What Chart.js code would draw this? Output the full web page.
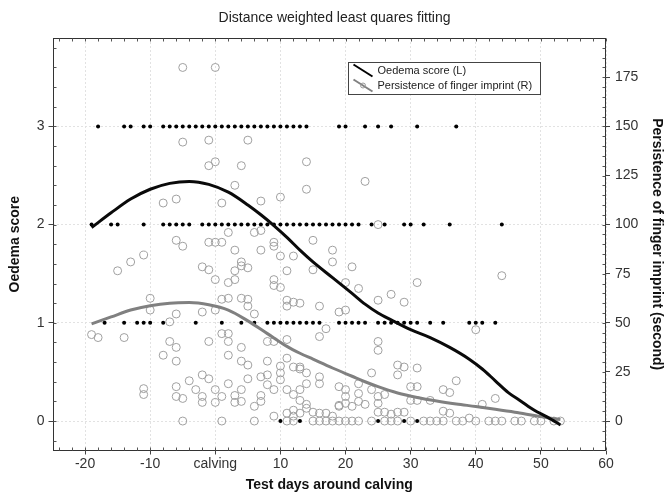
<!DOCTYPE html>
<html><head><meta charset="utf-8">
<script src="https://cdn.jsdelivr.net/npm/chart.js@4.4.0/dist/chart.umd.min.js"></script>
<style>html,body{margin:0;padding:0;background:#fff;}#wrap{width:669px;height:497px;}</style>
</head><body><div id="wrap"><canvas id="c" width="669" height="497"></canvas></div>
<script>
// ---------- texts ----------
const chartTitle = 'Distance weighted least quares fitting';
const xTitle = 'Test days around calving';
const yLeftTitle = 'Oedema score';
const yRightTitle = 'Persistence of finger imprint (second)';
const legendLabels = ['Oedema score (L)', 'Persistence of finger imprint (R)'];

// ---------- ticks ----------
const xTickValues = [-20, -10, 0, 10, 20, 30, 40, 50, 60];
const xTickLabels = ['-20', '-10', 'calving', '10', '20', '30', '40', '50', '60'];
const yLeftTicks = [0, 1, 2, 3];
const yRightTicks = [0, 25, 50, 75, 100, 125, 150, 175];

// ---------- oedema score observations (days per score level) ----------
const oedemaScore3Days = [-18,-14,-13,-11,-10,-8,-7,-6,-5,-4,-3,-2,-1,0,1,2,3,4,5,6,7,8,9,10,11,12,13,14,19,20,23,25,27,31,37];
const oedemaScore2Days = [-19,-16,-15,-11,-8,-7,-6,-5,-4,-2,-1,0,1,2,3,4,5,6,7,8,9,10,11,12,13,14,15,16,17,18,19,20,21,22,24,26,29,30,32,36,44];
const oedemaScore1Days = [-17,-14,-12,-11,-10,-8,-3,1,4,6,8,9,10,11,12,13,14,15,16,19,20,21,22,23,25,26,27,28,29,30,31,33,35,39,40,41,43];
const oedemaScore0Days = [10,13,25,29,31];

// ---------- persistence of finger imprint observations ----------
const persDays = [
  -5,0, -5,-1,5, -1,0,4,14, 3,14,23, -8,-6,1,7,10, 25, 2,6,7, -6,-1,0,1,9,15,
  -5,3,7,9,18,18, 10,12, -15,-13,-11, -2,-1, 0,3,4,4,5, 2,3, 9,9,10,11,
  21,15,20,22,31,44, 11,11,12,13,16,19,20, 25,27,29,
  -10,-10,-2,0,1,2,4,5,5,6, 8,9, -19,-18,-14, -7,-6,-7,-6,-8,-6,
  -1,1,2,2,2, 4,4,5, 8,10,10,10,11,12,13,11, 16,17,40, 25,25, 16,19,
  -11,-11, -6,-6,-5,-4,-2,-1, -3,-2,-2,0,0,1,2, 3,3,4,4,5,6,
  7,7,7,8,8,9, 11,12,13,13,14,14,14,
  9,11,12,12,13,14,15,16,17,18,19,
  24,28,29,28,31, 30,31,37,35,36,43,41, 20,20,19,20,21, 22,22,22,23,24,
  25,25,26, 25,26,27,28,29, 30,31,33, 35,36,39, 16,13,
  -5,1,6,11,12,15,16,17,18,19,20,21,22,24,26,27,28,30,32,33,34,35,37,38,40,42,43,44,46,47,49,50,52,53
];
const persValues = [
  180,180, 142,143,143, 130,132,130,132, 120,118,122, 111,113,111,112,114, 100, 96,96,97, 92,91,91,91,91,92,
  89,87,87,89,87,81, 84,84, 76.5,81,84.5, 78.5,77, 72,76.5,81,79,78, 70.5,72, 72,69,68,76.5,
  78.5,77,70.5,67.5,70.5,74, 61.5,58.5,60.5,60,58.5,55.5,56.5, 61.5,64.5,60.5,
  62.5,56.5,55.5,56.5,62,62.5,62.5,62,58.5,54.5, 40.5,40.5, 44,42.5,42.5, 50.5,54.5,40.5,37.5,33.5,30.5,
  40.5,44.5,44.5,40.5,33.5, 37.5,30.5,28.5, 30.5,28,24.5,21,32,27.5,26.5,41.5, 43,47,46.5, 40.5,36, 22.5,17.5,
  16.5,13.5, 17.5,12.5,11.5,20.5,23.5,21.5, 16,12.5,9.5,16,9.5,12.5,19, 13,9.5,16,10,21.5,7.5,
  22.5,13,10,23.5,18.5,16, 16,13.5,16,10.5,8.5,24.5,19,
  2.5,4,5.5,2.5,4,6.5,4.5,4,4,2.5,8,
  24.5,28.5,27.5,23.5,27, 17.5,17.5,20.5,16,14.5,11.5,8.5, 16,12.5,7.5,9,7.5, 19,14,10,8.5,16,
  12.5,9,13.5, 4.5,4.5,3.5,4.5,4.5, 10.5,10.5,10.5, 5,4,1.5, 19,27.5,
  0,0,0,0,0,0,0,0,0,0,0,0,0,0,0,0,0,0,0,0,0,0,0,0,0,0,0,0,0,0,0,0,0,0
];

// ---------- fitted curves ----------
const oedemaFitDays   = [-19,-16,-13,-10,-7,-4,-1,2,5,7,9,11,13,15,18,21,23,25,27,30,33,36,39,41,43,45,47,49,51,53];
const oedemaFitValues = [1.97,2.12,2.26,2.36,2.42,2.44,2.41,2.33,2.20,2.10,1.99,1.87,1.74,1.62,1.46,1.30,1.19,1.10,1.03,0.93,0.85,0.75,0.63,0.53,0.41,0.29,0.20,0.11,0.04,-0.04];
const persFitDays   = [-19,-16,-13,-10,-7,-4,-1,2,5,8,11,13,15,18,21,23,25,28,31,34,37,40,43,46,49,51,53];
const persFitValues = [49.5,53,56.5,58.7,60,60.3,59.2,56.5,51,44.5,38,34.5,31.5,27,22.8,20,17.5,14.3,12,10.2,8.7,7.4,6,4.5,2.8,1.7,0.8];

// ---------- build datasets ----------
const oedemaPoints = []
  .concat(oedemaScore3Days.map(d => ({x: d, y: 3})))
  .concat(oedemaScore2Days.map(d => ({x: d, y: 2})))
  .concat(oedemaScore1Days.map(d => ({x: d, y: 1})))
  .concat(oedemaScore0Days.map(d => ({x: d, y: 0})));
const persPoints = persDays.map((d, i) => ({x: d, y: persValues[i]}));
const oedemaFit = oedemaFitDays.map((d, i) => ({x: d, y: oedemaFitValues[i]}));
const persFit = persFitDays.map((d, i) => ({x: d, y: persFitValues[i]}));

const FONT = '"Liberation Sans", Arial, sans-serif';

const framePlugin = {
  id: 'frame',
  afterDatasetsDraw(chart) {
    const {ctx, chartArea: a, scales} = chart;
    ctx.save();
    ctx.strokeStyle = '#333';
    ctx.lineWidth = 1;
    const L = Math.round(a.left) + 0.5, R = Math.round(a.right) - 0.5;
    const T = Math.round(a.top) + 0.5, B = Math.round(a.bottom) - 0.5;
    ctx.strokeRect(L, T, R - L, B - T);
    // minor ticks (inside)
    ctx.strokeStyle = '#555';
    ctx.beginPath();
    for (let v = -24; v <= 60; v += 2) {
      const px = Math.round(scales.x.getPixelForValue(v)) + 0.5;
      ctx.moveTo(px, T); ctx.lineTo(px, T + 3);
      ctx.moveTo(px, B); ctx.lineTo(px, B - 3);
    }
    for (let v = -0.2; v <= 3.81; v += 0.2) {
      const py = Math.round(scales.y.getPixelForValue(v)) + 0.5;
      ctx.moveTo(L, py); ctx.lineTo(L + 3, py);
    }
    for (let v = -10; v <= 190; v += 5) {
      const py = Math.round(scales.y2.getPixelForValue(v)) + 0.5;
      ctx.moveTo(R, py); ctx.lineTo(R - 3, py);
    }
    ctx.stroke();
    ctx.restore();
  }
};

const legendPlugin = {
  id: 'boxLegend',
  afterDraw(chart) {
    const {ctx} = chart;
    const bx = 348.5, by = 62.5, bw = 192, bh = 32;
    ctx.save();
    ctx.fillStyle = '#fff';
    ctx.fillRect(bx, by, bw, bh);
    ctx.strokeStyle = '#444';
    ctx.lineWidth = 1;
    ctx.strokeRect(bx, by, bw, bh);
    ctx.strokeStyle = '#000';
    ctx.lineWidth = 2;
    ctx.beginPath(); ctx.moveTo(bx + 5, by + 2); ctx.lineTo(bx + 24, by + 14); ctx.stroke();
    ctx.strokeStyle = '#808080';
    ctx.beginPath(); ctx.moveTo(bx + 5, by + 17); ctx.lineTo(bx + 24, by + 29); ctx.stroke();
    ctx.lineWidth = 1;
    ctx.strokeStyle = '#999';
    ctx.beginPath(); ctx.arc(bx + 14.5, by + 23, 2.5, 0, Math.PI * 2); ctx.stroke();
    ctx.fillStyle = '#222';
    ctx.font = '11px ' + FONT;
    ctx.textBaseline = 'middle';
    ctx.fillText(legendLabels[0], bx + 29, by + 8.5);
    ctx.fillText(legendLabels[1], bx + 29, by + 23.5);
    ctx.restore();
  }
};

const tickFont = {family: FONT, size: 14};
const axisTitleFont = {family: FONT, size: 14, weight: 'bold'};

new Chart(document.getElementById('c'), {
  type: 'scatter',
  data: {
    datasets: [
      {label: legendLabels[0], type: 'line', data: oedemaFit, yAxisID: 'y', borderColor: '#0a0a0a', borderWidth: 3,
       pointRadius: 0, cubicInterpolationMode: 'monotone', fill: false, order: 0},
      {label: legendLabels[1], type: 'line', data: persFit, yAxisID: 'y2', borderColor: '#808080', borderWidth: 3,
       pointRadius: 0, cubicInterpolationMode: 'monotone', fill: false, order: 1},
      {label: 'pers', data: persPoints, yAxisID: 'y2', pointRadius: 4, pointBackgroundColor: 'rgba(0,0,0,0)',
       pointBorderColor: '#a0a0a0', pointBorderWidth: 1, order: 2},
      {label: 'oedema', data: oedemaPoints, yAxisID: 'y', pointRadius: 2, pointBackgroundColor: '#000',
       pointBorderWidth: 0, order: 3}
    ]
  },
  options: {
    responsive: false, animation: false, devicePixelRatio: 1,
    layout: {padding: 0},
    plugins: {
      legend: {display: false}, tooltip: {enabled: false},
      title: {display: true, text: chartTitle, color: '#222',
              font: {family: FONT, size: 14, weight: 'normal'}, padding: {top: 9.6, bottom: 11.6}}
    },
    scales: {
      x: {
        type: 'linear', min: -25, max: 60,
        afterBuildTicks: s => { s.ticks = xTickValues.map(v => ({value: v})); },
        ticks: {font: tickFont, color: '#333', padding: 1, maxRotation: 0,
                callback: v => xTickLabels[xTickValues.indexOf(v)]},
        grid: {color: '#e2e2e2', tickColor: '#444', tickLength: 4, tickBorderDash: []},
        border: {display: false, dash: [2, 2]},
        title: {display: true, text: xTitle, font: axisTitleFont, color: '#111', padding: {top: 0, bottom: 3.6}},
        afterFit: s => { s.height = 46.5; }
      },
      y: {
        position: 'left', min: -0.3, max: 3.9,
        afterBuildTicks: s => { s.ticks = yLeftTicks.map(v => ({value: v})); },
        ticks: {font: tickFont, color: '#333', padding: 4},
        grid: {color: '#e2e2e2', tickColor: '#444', tickLength: 4, tickBorderDash: []},
        border: {display: false, dash: [2, 2]},
        title: {display: true, text: yLeftTitle, font: axisTitleFont, color: '#111', padding: {top: 7, bottom: 0}},
        afterFit: s => { s.width = 52.5; }
      },
      y2: {
        position: 'right', min: -15, max: 195,
        afterBuildTicks: s => { s.ticks = yRightTicks.map(v => ({value: v})); },
        ticks: {font: tickFont, color: '#333', padding: 5},
        grid: {drawOnChartArea: false, tickColor: '#444', tickLength: 4},
        border: {display: false},
        title: {display: true, text: yRightTitle, font: axisTitleFont, color: '#111', padding: {top: 4, bottom: 0}},
        afterFit: s => { s.width = 63; }
      }
    }
  },
  plugins: [framePlugin, legendPlugin]
});
</script>
</body></html>
